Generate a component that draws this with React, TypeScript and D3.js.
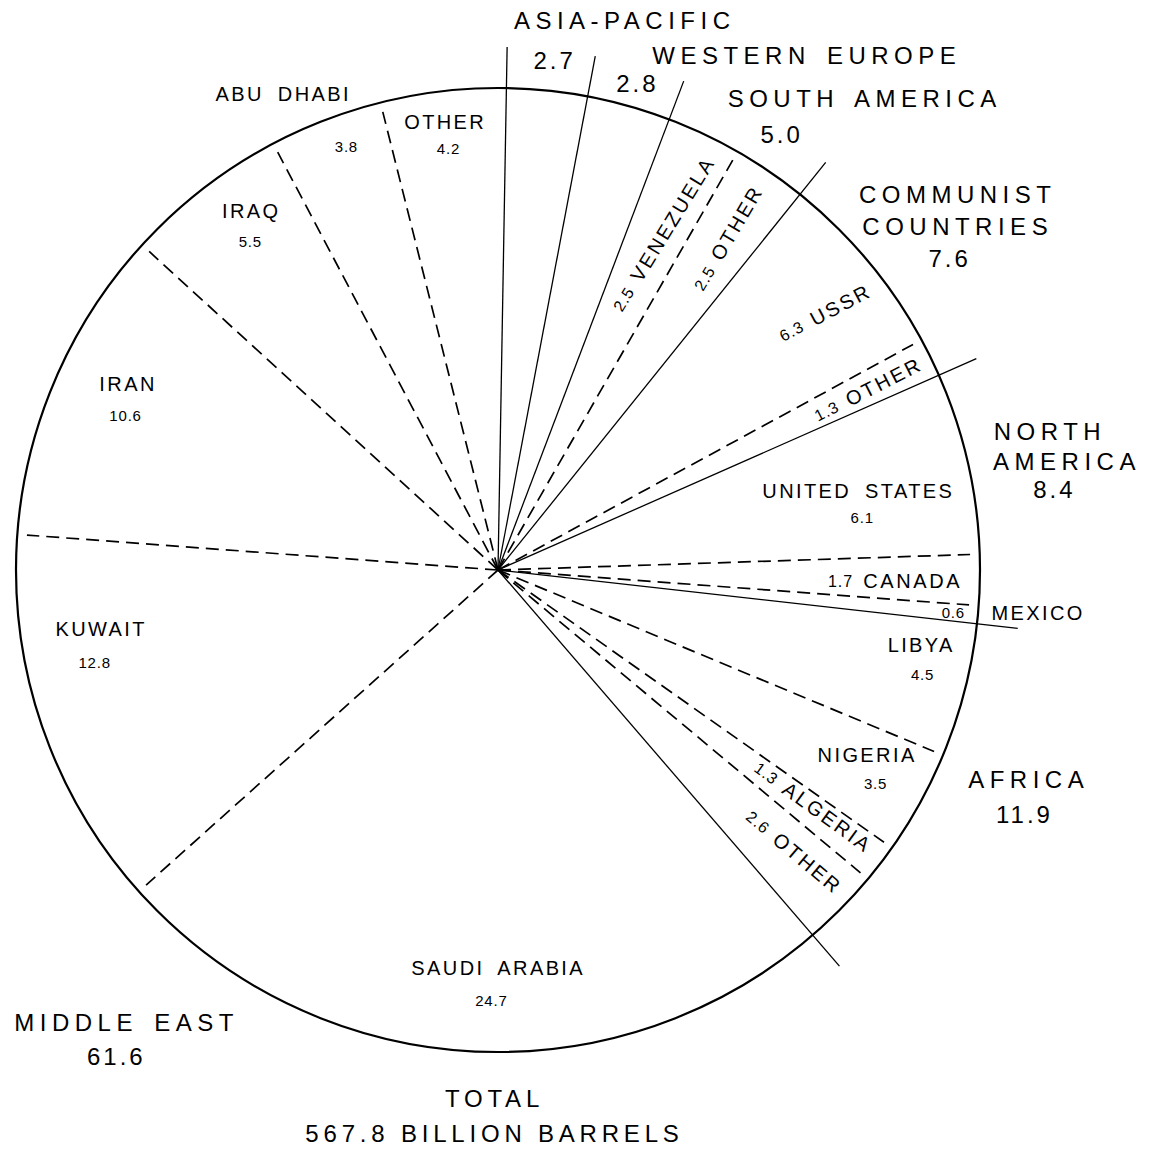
import React from "react";
import * as d3 from "d3";

// world proved oil reserves, percent of total, clockwise from 12 o'clock
const regionNames = [["ASIA-PACIFIC"], ["WESTERN EUROPE"], ["SOUTH AMERICA"], ["COMMUNIST", "COUNTRIES"], ["NORTH", "AMERICA"], ["AFRICA"], ["MIDDLE EAST"]];
const regionShares = [2.7, 2.8, 5.0, 7.6, 8.4, 11.9, 61.6];

const countryNames = ["ASIA-PACIFIC", "WESTERN EUROPE", "VENEZUELA", "OTHER", "USSR", "OTHER", "UNITED STATES", "CANADA", "MEXICO", "LIBYA", "NIGERIA", "ALGERIA", "OTHER", "SAUDI ARABIA", "KUWAIT", "IRAN", "IRAQ", "ABU DHABI", "OTHER"];
const countryRegion = [0, 1, 2, 2, 3, 3, 4, 4, 4, 5, 5, 5, 5, 6, 6, 6, 6, 6, 6];
const countryShares = [2.7, 2.8, 2.5, 2.5, 6.3, 1.3, 6.1, 1.7, 0.6, 4.5, 3.5, 1.3, 2.6, 24.7, 12.8, 10.6, 5.5, 3.8, 4.2];

const totalLines = ["TOTAL", "567.8 BILLION BARRELS"];

// ---- layout of the hand lettering ----
// spots are [angle nudge from slice middle in degrees, radius as share of R]
type Spot = [number, number];
type CountrySpot = { kind: "along" | "stack"; spot?: Spot; rot?: number; name?: Spot; value?: Spot };
const countrySpots: Record<number, CountrySpot> = {
  2: { kind: "along", spot: [0.9, 0.777], rot: -58.5 },
  3: { kind: "along", spot: [0.4, 0.838], rot: -59.5 },
  4: { kind: "along", spot: [1.7, 0.863], rot: -28 },
  5: { kind: "along", spot: [0.2, 0.854], rot: -27 },
  6: { kind: "stack", name: [1.5, 0.76], value: [5.5, 0.761] },
  7: { kind: "along", spot: [0.4, 0.824], rot: 0 },
  8: { kind: "stack", name: [0, 1.123], value: [0.7, 0.949] },
  9: { kind: "stack", name: [-3.5, 0.892], value: [0, 0.909] },
  10: { kind: "stack", name: [-1.35, 0.861], value: [1.25, 0.905] },
  11: { kind: "along", spot: [-0.6, 0.818], rot: 36 },
  12: { kind: "along", spot: [-0.95, 0.848], rot: 40 },
  13: { kind: "stack", name: [-3.56, 0.84], value: [-2.78, 0.905] },
  14: { kind: "stack", name: [9.38, 0.837], value: [5.17, 0.862] },
  15: { kind: "stack", name: [2.44, 0.855], value: [-1.54, 0.833] },
  16: { kind: "stack", name: [2.53, 0.893], value: [0.18, 0.845] },
  17: { kind: "stack", name: [-3.77, 1.071], value: [0.98, 0.923] },
  18: { kind: "stack", name: [-0.42, 0.922], value: [-0.29, 0.869] },
};
const regionSpots: { name: Spot; value: Spot; lines?: [number, number][] }[] = [
  { name: [7.05, 1.151], value: [0.41, 1.046] },
  { name: [15.4, 1.227], value: [0.34, 1.032] },
  { name: [8.37, 1.222], value: [3.64, 1.062] },
  { name: [-1.25, 1.216], value: [3.56, 1.126], lines: [[0, 0], [0, 32]] },
  { name: [-4.6, 1.171], value: [1.33, 1.161], lines: [[0, 0], [17, 30]] },
  { name: [-5.39, 1.185], value: [-2.09, 1.209] },
  { name: [-31.06, 1.232], value: [-32.39, 1.299] },
];

const W = 1154;
const H = 1154;
const cx = 498;
const cy = 570;
const R = 482;
const TURN = Math.PI / 180; // drawing is turned about one degree
const FONT = "'Liberation Sans', Arial, sans-serif";

export default function App() {
  const rScale = d3.scaleLinear().domain([0, 1]).range([0, R]);
  const pie = d3.pie<number>().sort(null).value((d) => d).startAngle(TURN).endAngle(TURN + 2 * Math.PI);
  const regionArcs = pie(regionShares);
  const countryArcs = pie(countryShares);
  const slice = d3.arc<d3.PieArcDatum<number>>().innerRadius(0).outerRadius(R);
  const fmt = d3.format(".1f");
  const rad = Math.PI / 180;

  const mid = (a: d3.PieArcDatum<number>) => (a.startAngle + a.endAngle) / 2;
  const at = (angle: number, k: number): [number, number] => {
    const [x, y] = d3.pointRadial(angle, rScale(k));
    return [cx + x, cy + y];
  };
  const ray = (angle: number, k: number) => d3.line()([[cx, cy], at(angle, k)]) || "";

  // solid lines between regions, dashed lines between countries of a region
  const regionRays = regionArcs.map((a) => a.startAngle);
  const countryRays = countryArcs.filter((a, i) => i > 0 && countryRegion[i] === countryRegion[i - 1]).map((a) => a.startAngle);

  const inner = { size: 20, ls: 2.4, ws: 6 };
  const small = { size: 15, ls: 0.8 };
  const outer = { size: 24, ls: 5.5, ws: 4 };

  return (
    <svg width={W} height={H} style={{ position: "absolute", left: 0, top: 0, background: "#fff" }} fontFamily={FONT}>
      <rect width={W} height={H} fill="#fff" />
      <g>
        {countryArcs.map((a, i) => (
          <path key={i} transform={`translate(${cx},${cy})`} d={slice(a) || ""} fill="#fff" stroke="none" />
        ))}
      </g>
      <g fill="none" stroke="#000">
        {countryRays.map((ang, i) => (
          <path key={"c" + i} d={ray(ang, 0.98)} strokeWidth={1.7} strokeDasharray="13 7" />
        ))}
        {regionRays.map((ang, i) => (
          <path key={"r" + i} d={ray(ang, 1.085)} strokeWidth={1.3} />
        ))}
        <circle cx={cx} cy={cy} r={rScale(1)} strokeWidth={2.2} />
      </g>

      {/* country labels */}
      <g fill="#000" textAnchor="middle">
        {countryArcs.map((a, i) => {
          const s = countrySpots[i];
          if (!s) return null;
          const m = mid(a);
          if (s.kind === "along") {
            const [x, y] = at(m + s.spot![0] * rad, s.spot![1]);
            return (
              <text key={i} transform={`translate(${x},${y}) rotate(${s.rot})`} dominantBaseline="central" fontSize={inner.size} letterSpacing={2.6}>
                <tspan fontSize={16} letterSpacing={1}>{fmt(countryShares[i])}</tspan>
                <tspan dx={10}>{countryNames[i]}</tspan>
              </text>
            );
          }
          const [nx, ny] = at(m + s.name![0] * rad, s.name![1]);
          const [vx, vy] = at(m + s.value![0] * rad, s.value![1]);
          return (
            <g key={i}>
              <text x={nx + inner.ls / 2} y={ny} fontSize={inner.size} letterSpacing={inner.ls} wordSpacing={inner.ws}>
                {countryNames[i]}
              </text>
              <text x={vx + small.ls / 2} y={vy} fontSize={small.size} letterSpacing={small.ls}>
                {fmt(countryShares[i])}
              </text>
            </g>
          );
        })}
      </g>

      {/* region labels outside the circle */}
      <g fill="#000" textAnchor="middle">
        {regionArcs.map((a, i) => {
          const s = regionSpots[i];
          const m = mid(a);
          const [nx, ny] = at(m + s.name[0] * rad, s.name[1]);
          const [vx, vy] = at(m + s.value[0] * rad, s.value[1]);
          return (
            <g key={i}>
              {regionNames[i].map((line, j) => {
                const off = s.lines ? s.lines[j] : [0, 0];
                return (
                  <text key={j} x={nx + off[0] + outer.ls / 2} y={ny + off[1]} fontSize={outer.size} letterSpacing={outer.ls} wordSpacing={outer.ws}>
                    {line}
                  </text>
                );
              })}
              <text x={vx + 1.5} y={vy} fontSize={outer.size} letterSpacing={3}>
                {fmt(regionShares[i])}
              </text>
            </g>
          );
        })}
      </g>

      {/* total */}
      <g fill="#000" textAnchor="middle" fontSize={outer.size}>
        {totalLines.map((t, j) => (
          <text key={j} x={cx - 6 + 2.5} y={cy + rScale(1) + 55 + j * 35} letterSpacing={4.8}>
            {t}
          </text>
        ))}
      </g>
    </svg>
  );
}
